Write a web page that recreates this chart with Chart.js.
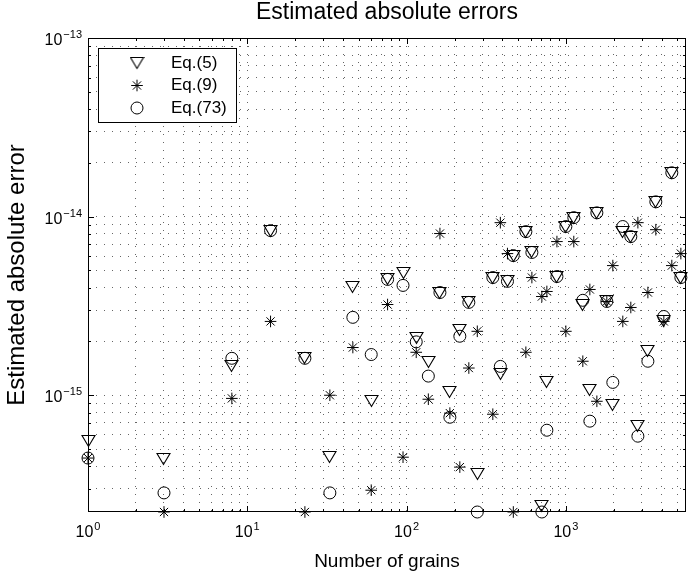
<!DOCTYPE html>
<html lang="en">
<head>
  <meta charset="UTF-8" />
  <title>Estimated absolute errors</title>
  <script src="https://cdn.jsdelivr.net/npm/chart.js"></script>
  <style>
    html, body {
      margin: 0;
      padding: 0;
      background: #fff;
    }
    #errChart {
      display: block;
    }
  </style>
</head>
<body>
  <canvas id="errChart" width="688" height="574"></canvas>

  <script>
    // number of grains (x) and the three error estimates (y)
    const grains = [1, 3, 8, 14, 23, 33, 46, 60, 76, 95, 115, 137, 162, 187, 216, 246, 278, 348, 388, 430,
      468, 561, 612, 707, 760, 879, 1000, 1122, 1278, 1415, 1566, 1808, 1972, 2278, 2558, 2833, 3274, 3672,
      4123, 4627, 5274];
    const eq5 = [5.53e-16, 4.4e-16, 1.45e-15, 8.35e-15, 1.61e-15, 4.5e-16, 4.06e-15, 9.25e-16, 4.45e-15, 4.81e-15,
      2.08e-15, 1.53e-15, 3.76e-15, 1.04e-15, 2.31e-15, 3.31e-15, 3.62e-16, 4.56e-15, 1.31e-15, 4.34e-15,
      6.05e-15, 8.24e-15, 6.3e-15, 2.4e-16, 1.18e-15, 4.62e-15, 8.8e-15, 9.87e-15, 3.22e-15, 1.07e-15,
      1.05e-14, 3.35e-15, 8.79e-16, 8.24e-15, 7.73e-15, 6.71e-16, 1.76e-15, 1.21e-14, 2.62e-15, 1.76e-14,
      4.56e-15];
    const eq9 = [4.45e-16, 2.22e-16, 9.6e-16, 2.59e-15, 2.22e-16, 1.0e-15, 1.85e-15, 2.94e-16, 3.22e-15, 4.5e-16,
      1.74e-15, 9.5e-16, 8.04e-15, 7.94e-16, 3.96e-16, 1.42e-15, 2.28e-15, 7.83e-16, 9.25e-15, 6.21e-15,
      2.22e-16, 1.74e-15, 4.56e-15, 3.57e-15, 3.81e-15, 7.25e-15, 2.28e-15, 7.25e-15, 1.55e-15, 3.91e-15,
      9.25e-16, 3.35e-15, 5.32e-15, 2.59e-15, 3.1e-15, 9.25e-15, 3.76e-15, 8.45e-15, 2.59e-15, 5.32e-15,
      6.21e-15];
    const eq73 = [4.45e-16, 2.84e-16, 1.61e-15, 8.35e-15, 1.61e-15, 2.84e-16, 2.73e-15, 1.69e-15, 4.45e-15, 4.12e-15,
      1.99e-15, 1.28e-15, 3.76e-15, 7.53e-16, 2.14e-15, 3.31e-15, 2.22e-16, 4.56e-15, 1.45e-15, 4.34e-15,
      6.05e-15, 8.24e-15, 6.3e-15, 2.22e-16, 6.37e-16, 4.62e-15, 8.8e-15, 9.87e-15, 3.4e-15, 7.16e-16,
      1.05e-14, 3.35e-15, 1.18e-15, 8.8e-15, 7.73e-15, 5.9e-16, 1.55e-15, 1.21e-14, 2.76e-15, 1.76e-14,
      4.56e-15];

    const seriesNames = ["Eq.(5)", "Eq.(9)", "Eq.(73)"];

    // axis limits and labelled decades
    const xLimits = [1, 5680];
    const yLimits = [2.22e-16, 1e-13];
    const xTickExp = [0, 1, 2, 3];
    const yTickExp = [-15, -14, -13];

    const FONT = "'Liberation Sans', Arial, Helvetica, sans-serif";
    Chart.defaults.font.family = FONT;
    Chart.defaults.color = "#000";

    // downward triangle marker, centred on its box like matlab's 'v'
    function makeTriangle() {
      const c = document.createElement("canvas");
      c.width = 15;
      c.height = 14;
      const g = c.getContext("2d");
      g.strokeStyle = "#000";
      g.lineWidth = 1.1;
      g.beginPath();
      g.moveTo(1, 1.5);
      g.lineTo(14, 1.5);
      g.lineTo(7.5, 12.5);
      g.closePath();
      g.stroke();
      return c;
    }
    const triMarker = makeTriangle();

    const markerStyles = [
      { pointStyle: triMarker, radius: 7, borderWidth: 1, rotation: 0 },
      { pointStyle: "star", radius: 5.8, borderWidth: 1, rotation: 0 },
      { pointStyle: "circle", radius: 6, borderWidth: 1, rotation: 0 },
    ];

    function logTicks(min, max) {
      const out = [];
      for (let e = Math.floor(Math.log10(min)); e <= Math.ceil(Math.log10(max)); e++) {
        for (let m = 1; m <= 9; m++) {
          const v = m * Math.pow(10, e);
          if (v >= min * 0.999 && v <= max * 1.001) out.push({ value: v, major: m === 1 });
        }
      }
      return out;
    }

    function toPoints(ys) {
      return grains.map((g, i) => ({ x: g, y: ys[i] }));
    }

    // "10" with a raised exponent
    function drawPow(ctx, exp, x, y, align) {
      const expText = exp < 0 ? "\u2212" + Math.abs(exp) : String(exp);
      ctx.font = "16px " + FONT;
      const wBase = ctx.measureText("10").width;
      ctx.font = "11px " + FONT;
      const wExp = ctx.measureText(expText).width;
      const total = wBase + wExp + 1;
      let x0 = align === "right" ? x - total : x - total / 2;
      ctx.textAlign = "left";
      ctx.textBaseline = "alphabetic";
      ctx.font = "16px " + FONT;
      ctx.fillText("10", x0, y);
      ctx.font = "11px " + FONT;
      ctx.fillText(expText, x0 + wBase + 1, y - 7);
    }

    const framePlugin = {
      id: "frame",
      beforeDatasetsDraw(chart) {
        chart.ctx.imageSmoothingEnabled = false;
      },
      afterDatasetsDraw(chart) {
        chart.ctx.imageSmoothingEnabled = true;
      },
      afterDraw(chart) {
        const { ctx, chartArea: a, scales } = chart;
        const xs = scales.x, ys = scales.y;
        ctx.save();
        ctx.strokeStyle = "#000";
        ctx.lineWidth = 1;

        // inward tick marks on all four sides
        ctx.beginPath();
        xs.ticks.forEach(t => {
          const px = Math.round(xs.getPixelForValue(t.value)) + 0.5;
          const len = t.major ? 6 : 3;
          ctx.moveTo(px, a.bottom); ctx.lineTo(px, a.bottom - len);
          ctx.moveTo(px, a.top); ctx.lineTo(px, a.top + len);
        });
        ys.ticks.forEach(t => {
          const py = Math.round(ys.getPixelForValue(t.value)) + 0.5;
          const len = t.major ? 6 : 3;
          ctx.moveTo(a.left, py); ctx.lineTo(a.left + len, py);
          ctx.moveTo(a.right, py); ctx.lineTo(a.right - len, py);
        });
        ctx.stroke();

        // axes box
        ctx.strokeRect(Math.round(a.left) + 0.5, Math.round(a.top) + 0.5,
          Math.round(a.right - a.left) - 1, Math.round(a.bottom - a.top) - 1);

        // tick labels
        ctx.fillStyle = "#000";
        xTickExp.forEach(e => {
          drawPow(ctx, e, xs.getPixelForValue(Math.pow(10, e)), a.bottom + 25, "center");
        });
        yTickExp.forEach(e => {
          drawPow(ctx, e, 82, ys.getPixelForValue(Math.pow(10, e)) + 7, "right");
        });

        // legend box
        const lx = 98.5, ly = 48.5, lw = 138, lh = 74;
        ctx.fillStyle = "#fff";
        ctx.fillRect(lx, ly, lw, lh);
        ctx.strokeRect(lx, ly, lw, lh);
        ctx.font = "17px " + FONT;
        ctx.textAlign = "left";
        ctx.textBaseline = "middle";
        seriesNames.forEach((name, i) => {
          const rowY = 63 + i * 22.5;
          ctx.fillStyle = "rgba(0,0,0,0)";
          ctx.strokeStyle = "#000";
          ctx.lineWidth = 1;
          Chart.helpers.drawPoint(ctx, markerStyles[i], 137, rowY);
          ctx.fillStyle = "#000";
          ctx.fillText(name, 171, rowY);
        });
        ctx.restore();
      },
    };

    const datasets = [eq5, eq9, eq73].map((ys, i) => ({
      label: seriesNames[i],
      data: toPoints(ys),
      pointStyle: markerStyles[i].pointStyle,
      pointRadius: markerStyles[i].radius,
      pointBorderWidth: 1,
      pointBorderColor: "#000",
      pointBackgroundColor: "rgba(0,0,0,0)",
      showLine: false,
      clip: false,
    }));

    new Chart(document.getElementById("errChart"), {
      type: "scatter",
      data: { datasets },
      options: {
        responsive: false,
        animation: false,
        devicePixelRatio: 1,
        events: [],
        layout: { autoPadding: false, padding: { left: 0, right: 2, top: 0, bottom: 0 } },
        plugins: {
          legend: { display: false },
          tooltip: { enabled: false },
          title: {
            display: true,
            text: "Estimated absolute errors",
            fullSize: false,
            color: "#000",
            font: { size: 23, weight: "normal", lineHeight: 1 },
            padding: { top: 1, bottom: 14 },
          },
        },
        scales: {
          x: {
            type: "logarithmic",
            min: xLimits[0],
            max: xLimits[1],
            afterBuildTicks: s => { s.ticks = logTicks(xLimits[0], xLimits[1]); },
            afterFit: s => { s.height = 62; },
            ticks: { display: false },
            grid: { color: "rgba(0,0,0,0.6)", lineWidth: 1, drawTicks: false },
            border: { display: false, dash: [1, 7] },
            title: {
              display: true,
              text: "Number of grains",
              font: { size: 19 },
              padding: { top: 0, bottom: 1 },
            },
          },
          y: {
            type: "logarithmic",
            min: yLimits[0],
            max: yLimits[1],
            afterBuildTicks: s => { s.ticks = logTicks(yLimits[0], yLimits[1]); },
            afterFit: s => { s.width = 88; },
            ticks: { display: false },
            grid: { color: "rgba(0,0,0,0.6)", lineWidth: 1, drawTicks: false },
            border: { display: false, dash: [1, 7] },
            title: {
              display: true,
              text: "Estimated absolute error",
              font: { size: 24, lineHeight: 1 },
              padding: { top: 5.5, bottom: 0 },
            },
          },
        },
      },
      plugins: [framePlugin],
    });
  </script>
</body>
</html>
